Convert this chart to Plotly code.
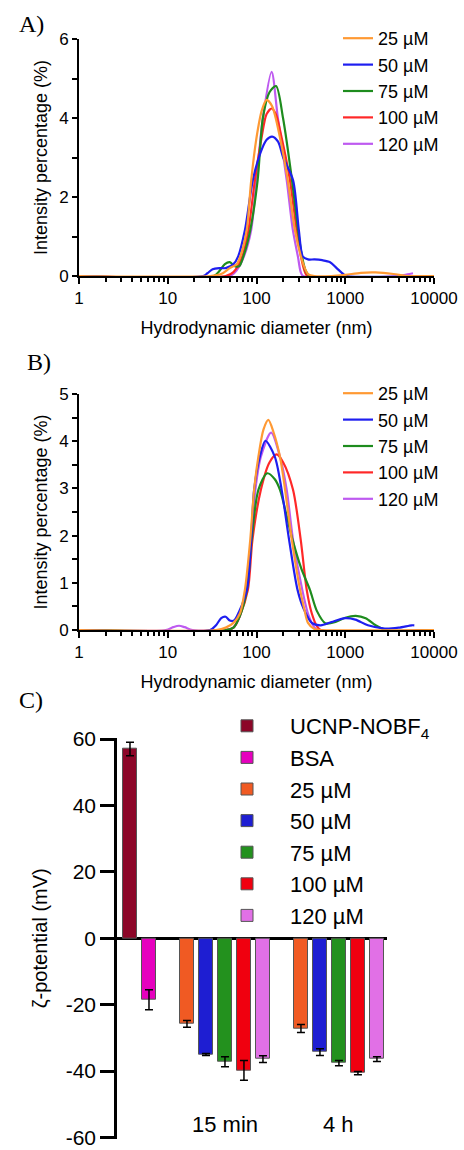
import plotly.graph_objects as go

W, H = 464, 1150
FONT = "Liberation Sans, Arial, sans-serif"

# ---------------- data ----------------
conc_labels = ["25 µM", "50 µM", "75 µM", "100 µM", "120 µM"]
line_colors = ["#FF9933", "#1E1EF0", "#1E8C1E", "#FF2828", "#BE5AF0"]

x_log_ticks = [1, 10, 100, 1000, 10000]
x_log_ticktext = ["1", "10", "100", "1000", "10000"]

# Panel A: hydrodynamic diameter (nm) vs intensity (%)
A25_d = [1, 30, 40, 50, 60, 68, 78, 87, 100, 115, 130, 150, 184, 225, 271, 317, 350, 380, 450, 700, 1000, 1500, 2200, 3500, 5000, 10000]
A25_i = [0, 0, 0.05, 0.2, 0.3, 0.6, 1.2, 2.4, 3.5, 4.2, 4.46, 4.3, 3.5, 2.43, 1.16, 0.49, 0.2, 0.05, 0, 0, 0.03, 0.08, 0.09, 0.05, 0, 0]
A50_d = [1, 25, 28, 32, 38, 45, 55, 62, 74, 91, 110, 130, 150, 175, 200, 258, 300, 333, 380, 450, 550, 675, 800, 950, 1050, 10000]
A50_i = [0, 0, 0.07, 0.17, 0.2, 0.2, 0.3, 0.49, 1.16, 2.43, 3.1, 3.45, 3.53, 3.4, 3.0, 2.43, 1.16, 0.49, 0.42, 0.42, 0.4, 0.35, 0.2, 0.05, 0, 0]
A75_d = [1, 33, 38, 44, 50, 57, 64, 71, 85, 103, 118, 140, 166, 199, 251, 294, 326, 360, 400, 10000]
A75_i = [0, 0, 0.12, 0.3, 0.35, 0.25, 0.25, 0.49, 1.16, 2.43, 4.0, 4.65, 4.81, 4.0, 2.43, 1.16, 0.49, 0.12, 0, 0]
A100_d = [1, 45, 55, 69, 81, 96, 114, 130, 148, 165, 192, 238, 283, 317, 345, 375, 10000]
A100_i = [0, 0, 0.1, 0.49, 1.16, 2.43, 3.5, 4.1, 4.24, 4.1, 3.5, 2.43, 1.16, 0.49, 0.15, 0, 0]
A120_d = [1, 50, 60, 72, 87, 100, 118, 148, 174, 219, 257, 293, 315, 335, 4000, 5000, 5800]
A120_i = [0, 0, 0.15, 0.49, 1.16, 2.43, 4.0, 5.17, 4.0, 2.43, 1.16, 0.49, 0.1, 0, 0, 0.04, 0.07]

# Panel B
B25_d = [1, 35, 45, 55, 65, 74, 85, 94, 105, 120, 136, 155, 184, 210, 250, 310, 345, 380, 450, 520, 10000]
B25_i = [0, 0, 0.05, 0.15, 0.35, 0.85, 1.91, 2.97, 3.67, 4.25, 4.45, 4.2, 3.67, 2.97, 1.91, 0.85, 0.45, 0.15, 0.02, 0, 0]
B50_d = [1, 30, 35, 40, 45, 50, 56, 64, 78, 87, 94, 109, 126, 161, 192, 233, 290, 340, 420, 530, 700, 1000, 1300, 1800, 2800, 4000, 5600, 6000]
B50_i = [0, 0, 0.1, 0.25, 0.28, 0.2, 0.2, 0.4, 0.85, 1.91, 2.97, 3.67, 4.01, 3.67, 2.97, 1.91, 0.85, 0.45, 0.15, 0.1, 0.17, 0.25, 0.22, 0.1, 0.03, 0.05, 0.1, 0.1]
B75_d = [1, 45, 55, 65, 78, 88, 105, 132, 160, 184, 220, 255, 320, 400, 480, 600, 800, 1000, 1312, 1700, 2200, 2860, 10000]
B75_i = [0, 0, 0.05, 0.3, 0.85, 1.91, 2.97, 3.32, 3.2, 2.97, 2.4, 1.91, 1.3, 0.85, 0.4, 0.14, 0.18, 0.26, 0.3, 0.25, 0.1, 0, 0]
B100_d = [1, 45, 55, 65, 80, 90, 112, 140, 169, 200, 258, 315, 368, 420, 480, 530, 10000]
B100_i = [0, 0, 0.05, 0.3, 0.85, 1.91, 2.97, 3.55, 3.72, 3.55, 2.97, 1.91, 0.85, 0.35, 0.08, 0, 0]
B120_d = [1, 9.5, 11.5, 13.4, 15.5, 19, 45, 55, 65, 76, 87, 97, 112, 146, 184, 219, 258, 328, 380, 440, 490, 10000]
B120_i = [0, 0, 0.06, 0.09, 0.06, 0, 0, 0.05, 0.3, 0.85, 1.91, 2.97, 3.67, 4.18, 3.67, 2.97, 1.91, 0.85, 0.35, 0.08, 0, 0]

# Panel C: zeta potential (mV)
control_labels = ["UCNP-NOBF<sub>4</sub>", "BSA"]
control_colors = ["#8C0628", "#E600BE"]
control_zeta = [57.0, -18.5]
control_err = [2.0, 3.0]
time_labels = ["15 min", "4 h"]
bar_colors = ["#F05A23", "#1E1ED2", "#23911E", "#F0000F", "#E170E6"]
zeta_15min = [-25.8, -35.0, -37.2, -39.8, -36.4]
err_15min = [1.0, 0.3, 1.5, 3.0, 1.0]
zeta_4h = [-27.2, -34.3, -37.6, -40.6, -36.4]
err_4h = [1.2, 1.0, 0.8, 0.5, 0.7]
zeta_ticks = [-60, -40, -20, 0, 20, 40, 60]
zeta_ticktext = ["-60", "-40", "-20", "0", "20", "40", "60"]

# ---------------- figure ----------------
fig = go.Figure()

A_series = [(A25_d, A25_i), (A50_d, A50_i), (A75_d, A75_i), (A100_d, A100_i), (A120_d, A120_i)]
B_series = [(B25_d, B25_i), (B50_d, B50_i), (B75_d, B75_i), (B100_d, B100_i), (B120_d, B120_i)]

for series, xa, ya, lg in [(A_series, "x", "y", "legend"), (B_series, "x2", "y2", "legend2")]:
    for k in reversed(range(len(series))):
        d, v = series[k]
        fig.add_trace(go.Scatter(
            x=d, y=v, mode="lines", name=conc_labels[k],
            line=dict(color=line_colors[k], width=2.2, shape="spline", smoothing=0.8),
            xaxis=xa, yaxis=ya, legend=lg, cliponaxis=False,
        ))

# panel C bars
n_ctrl = len(control_labels)
for i in range(n_ctrl):
    fig.add_trace(go.Bar(
        x=[i], y=[control_zeta[i]], name=control_labels[i],
        marker=dict(color=control_colors[i], line=dict(color="#555555", width=1)),
        error_y=dict(type="data", array=[control_err[i]], color="black", thickness=1.5, width=4),
        width=0.78, xaxis="x3", yaxis="y3", legend="legend3",
    ))

n_c = len(conc_labels)
group_starts = [n_ctrl + 1 + g * (n_c + 1) for g in range(len(time_labels))]
for k in range(n_c):
    fig.add_trace(go.Bar(
        x=[s + k for s in group_starts], y=[zeta_15min[k], zeta_4h[k]], name=conc_labels[k],
        marker=dict(color=bar_colors[k], line=dict(color="#555555", width=1)),
        error_y=dict(type="data", array=[err_15min[k], err_4h[k]], color="black", thickness=1.5, width=4),
        width=0.78, xaxis="x3", yaxis="y3", legend="legend3",
    ))

def pxy(py):
    return 1 - py / H

log_minor = [m * 10 ** e for e in range(4) for m in range(2, 10)]

common_x = dict(
    type="log", range=[0, 4], tickmode="array", tickvals=x_log_ticks, ticktext=x_log_ticktext,
    ticks="outside", ticklen=6, tickwidth=2, tickcolor="black",
    showline=True, linewidth=2, linecolor="black", showgrid=False, zeroline=False,
    minor=dict(tickmode="array", tickvals=log_minor, ticks="outside", ticklen=4, tickwidth=1.5, tickcolor="black"),
    tickfont=dict(size=17, color="black"), layer="below traces", ticklabeloverflow="allow",
    title=dict(text="Hydrodynamic diameter (nm)", font=dict(size=18, color="black"), standoff=14),
    domain=[79 / W, 434 / W], automargin=False,
)
common_y = dict(
    ticks="outside", ticklen=5, tickwidth=2, tickcolor="black",
    showline=True, linewidth=2, linecolor="black", showgrid=False, zeroline=False,
    tickfont=dict(size=17, color="black"), layer="below traces",
    title=dict(text="Intensity percentage (%)", font=dict(size=18, color="black"), standoff=7),
    automargin=False,
)

fig.update_layout(
    width=W, height=H, margin=dict(l=0, r=0, t=0, b=0),
    paper_bgcolor="white", plot_bgcolor="white",
    font=dict(family=FONT, color="black"),
    bargap=0, barmode="overlay",
    xaxis=dict(common_x, anchor="y"),
    yaxis=dict(common_y, anchor="x", range=[0, 6], dtick=2,
               minor=dict(dtick=1, ticks="outside", ticklen=5, tickwidth=2, tickcolor="black"),
               domain=[pxy(276), pxy(39)]),
    xaxis2=dict(common_x, anchor="y2"),
    yaxis2=dict(common_y, anchor="x2", range=[0, 5], dtick=1,
                minor=dict(dtick=0.5, ticks="outside", ticklen=5, tickwidth=2, tickcolor="black"),
                domain=[pxy(630), pxy(394)]),
    xaxis3=dict(anchor="y3", range=[-0.684, 13.53], domain=[117 / W, 387 / W], visible=False, automargin=False),
    yaxis3=dict(anchor="x3", range=[-60.4, 60.4], tickmode="array", tickvals=zeta_ticks, ticktext=zeta_ticktext,
                ticks="outside", ticklen=14, tickwidth=2.5, tickcolor="black",
                showline=True, linewidth=2.5, linecolor="black", showgrid=False,
                zeroline=True, zerolinecolor="black", zerolinewidth=2.5,
                tickfont=dict(size=21, color="black"), ticklabeloverflow="allow",
                title=dict(text="ζ-potential (mV)", font=dict(size=20, color="black"), standoff=13),
                domain=[pxy(1138.8), pxy(737.7)], automargin=False),
    legend=dict(x=338 / W, y=pxy(20), xanchor="left", yanchor="top", traceorder="reversed",
                font=dict(size=18, color="black"), bgcolor="rgba(0,0,0,0)", itemwidth=30),
    legend2=dict(x=338 / W, y=pxy(375), xanchor="left", yanchor="top", traceorder="reversed",
                 font=dict(size=18, color="black"), bgcolor="rgba(0,0,0,0)", itemwidth=30),
    legend3=dict(x=204 / W, y=pxy(705), xanchor="left", yanchor="top", traceorder="normal",
                 font=dict(size=22, color="black"), bgcolor="rgba(0,0,0,0)", itemwidth=76),
)

annotations = [
    dict(text="A)", x=17 / W, y=pxy(24), xref="paper", yref="paper", xanchor="left", yanchor="middle",
         showarrow=False, font=dict(family="Liberation Serif, Times New Roman, serif", size=24, color="black")),
    dict(text="B)", x=25 / W, y=pxy(362), xref="paper", yref="paper", xanchor="left", yanchor="middle",
         showarrow=False, font=dict(family="Liberation Serif, Times New Roman, serif", size=24, color="black")),
    dict(text="C)", x=17 / W, y=pxy(700), xref="paper", yref="paper", xanchor="left", yanchor="middle",
         showarrow=False, font=dict(family="Liberation Serif, Times New Roman, serif", size=24, color="black")),
]
for g, lab in enumerate(time_labels):
    annotations.append(dict(text=lab, x=group_starts[g] + (n_c - 1) / 2, y=-56, xref="x3", yref="y3",
                            showarrow=False, xanchor="center", yanchor="middle",
                            font=dict(size=22, color="black")))
fig.update_layout(annotations=annotations)

fig.write_html(
    "out.html",
    config={"displayModeBar": False},
    post_script="document.body.style.margin='0';document.body.style.padding='0';document.body.style.overflow='hidden';",
)
